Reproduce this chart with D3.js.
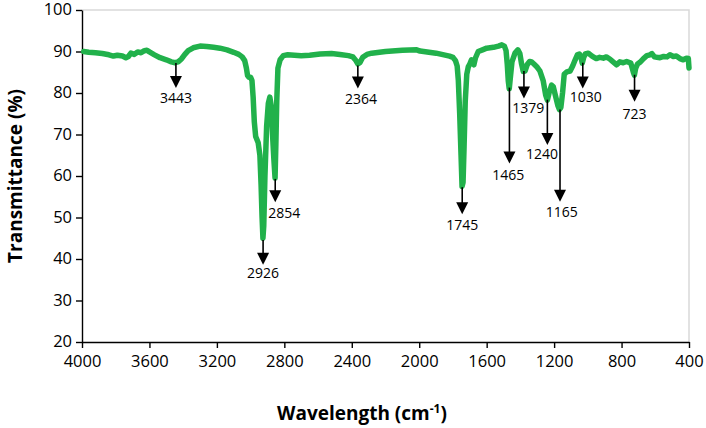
<!DOCTYPE html>
<html>
<head>
<meta charset="utf-8">
<script src="https://cdn.jsdelivr.net/npm/d3@7"></script>
<style>
  body { margin: 0; background: #fff; }
  svg { display: block; font-family: "Open Sans", sans-serif; }
</style>
</head>
<body>
<div id="chart"></div>
<script>
// FTIR spectrum
var wavenumbers = [3990,3960,3920,3880,3840,3814,3790,3760,3740,3725,3710,3690,3670,3650,3630,3615,3600,3570,3537,3500,
  3470,3448,3430,3410,3390,3370,3340,3300,3260,3220,3182,3140,3100,3070,3050,3035,3025,3018,3010,3000,
  2992,2985,2978,2970,2955,2945,2938,2932,2927,2922,2915,2905,2895,2886,2878,2870,2862,2855,2850,2845,
  2838,2825,2806,2780,2700,2650,2588,2520,2470,2420,2393,2375,2364,2352,2335,2310,2282,2200,2100,2015,
  1995,1900,1820,1800,1785,1775,1768,1760,1752,1746,1740,1734,1727,1718,1709,1700,1690,1683,1676,1666,
  1650,1625,1600,1560,1530,1510,1495,1485,1478,1472,1466,1460,1450,1432,1415,1403,1393,1383,1372,1360,
  1345,1333,1315,1300,1284,1265,1250,1240,1230,1215,1205,1190,1178,1168,1160,1150,1140,1125,1105,1090,
  1075,1062,1050,1040,1033,1025,1015,997,975,950,930,908,890,870,850,829,810,790,770,745,
  730,724,716,705,691,670,650,631,620,605,590,572,550,530,513,493,475,454,434,415,
  404,400];
var transmittance = [90.0,89.8,89.7,89.5,89.2,88.9,89.1,88.9,88.5,88.8,89.6,89.3,89.9,89.7,90.2,90.3,89.9,89.2,88.5,88.0,
  87.5,87.3,87.5,88.2,89.3,90.2,90.9,91.3,91.2,91.0,90.8,90.4,89.8,89.3,88.7,87.8,86.0,84.2,83.8,83.8,
  83.0,79.0,73.0,69.5,68.0,65.0,58.0,50.0,45.0,48.0,60.0,72.0,77.5,79.0,77.0,70.0,64.0,59.5,68.0,78.0,
  86.0,88.0,89.0,89.2,89.0,89.1,89.4,89.5,89.3,89.0,88.7,87.8,87.0,87.3,88.6,89.3,89.6,90.0,90.3,90.4,
  90.1,89.6,88.9,88.6,87.8,86.5,83.0,75.0,65.0,57.5,58.5,67.0,78.0,84.5,86.3,87.0,88.0,87.2,86.8,88.5,
  90.0,90.4,90.8,91.0,91.3,91.6,91.3,90.2,87.0,83.0,81.0,83.5,87.5,89.6,90.4,89.5,87.0,85.2,85.3,86.8,
  87.6,87.5,86.8,86.2,85.3,83.0,79.5,78.3,80.0,81.9,81.5,79.0,77.0,76.0,76.5,80.0,84.5,85.1,85.3,86.5,
  88.0,89.2,89.4,88.5,87.2,88.5,89.4,89.6,88.9,88.3,88.6,88.4,88.7,88.2,87.5,86.8,87.5,87.3,87.6,87.2,
  85.0,84.3,86.0,87.0,87.4,88.3,89.0,89.2,89.5,88.7,88.6,88.5,88.8,88.7,89.2,88.8,88.9,88.3,88.0,88.4,
  88.3,86.0];

// peak arrows: position, arrow top / tip (in %), label position
var peakLabels = ["3443","2926","2854","2364","1745","1465","1379","1240","1165","1030","723"];
var peakWn     = [3443, 2926, 2854, 2364, 1745, 1465, 1379, 1240, 1165, 1030, 723];
var arrowFrom  = [87.2, 44.6, 59.3, 86.6, 57.3, 81.3, 85.3, 78.4, 76.0, 87.3, 84.4];
var arrowTo    = [81.2, 38.6, 53.7, 81.1, 50.8, 63.0, 78.7, 67.5, 53.8, 81.1, 77.9];
var labelWn    = [3443, 2926, 2800, 2345, 1745, 1472, 1353, 1272, 1155, 1012, 723];
var labelT     = [77.6, 35.4, 49.9, 77.3, 47.0, 59.0, 75.1, 64.1, 50.2, 77.9, 73.7];

var xTicks = [4000,3600,3200,2800,2400,2000,1600,1200,800,400];
var yTicks = [20,30,40,50,60,70,80,90,100];

var width = 706, height = 428;
var margin = {top: 10, right: 17, bottom: 86, left: 82};
var widthG = width - margin.left - margin.right;
var heightG = height - margin.top - margin.bottom;

var svg = d3.select("#chart").append("svg")
  .attr("width", width)
  .attr("height", height)
  .attr("viewBox", "0 0 " + width + " " + height);

var g = svg.append("g")
  .attr("transform", "translate(" + margin.left + "," + margin.top + ")");

var x = d3.scaleLinear().domain([4000, 400]).range([0, widthG]);
var y = d3.scaleLinear().domain([20, 100]).range([heightG, 0]);

// light frame on top and right
g.append("path")
  .attr("d", "M0,0H" + widthG + "V" + heightG)
  .attr("fill", "none")
  .attr("stroke", "#d9d9d9")
  .attr("stroke-width", 1.5);

// axes
var xAxis = g.append("g")
  .attr("transform", "translate(0," + heightG + ")")
  .call(d3.axisBottom(x).tickValues(xTicks).tickSize(6).tickSizeOuter(0).tickFormat(d3.format("d")));

var yAxis = g.append("g")
  .call(d3.axisLeft(y).tickValues(yTicks).tickSize(6).tickSizeOuter(0));

[xAxis, yAxis].forEach(function(a){
  a.selectAll("path, line").attr("stroke", "#000").attr("stroke-width", 1.4);
  a.selectAll("text")
    .attr("fill", "#000")
    .style("font-family", "'Open Sans', sans-serif")
    .style("font-size", "16.5px");
});
xAxis.selectAll("text").attr("y", 13);
yAxis.selectAll("text").attr("x", -10).attr("dy", "0.3em");

// spectrum
var spectrum = wavenumbers.map(function(w, i){ return {wn: w, t: transmittance[i]}; });

g.append("path")
  .datum(spectrum)
  .attr("fill", "none")
  .attr("stroke", "#21b14b")
  .attr("stroke-width", 5.5)
  .attr("stroke-linejoin", "round")
  .attr("stroke-linecap", "round")
  .attr("d", d3.line()
    .x(function(d){ return x(d.wn); })
    .y(function(d){ return y(d.t); }));

// arrows + labels
var peaks = peakLabels.map(function(l, i){
  return {label: l, wn: peakWn[i], from: arrowFrom[i], to: arrowTo[i], lx: labelWn[i], ly: labelT[i]};
});

var ann = g.selectAll(".peak")
  .data(peaks)
  .enter().append("g")
  .attr("class", "peak");

var head = 12, halfW = 6;

ann.append("line")
  .attr("x1", function(d){ return x(d.wn); })
  .attr("x2", function(d){ return x(d.wn); })
  .attr("y1", function(d){ return y(d.from); })
  .attr("y2", function(d){ return y(d.to) - head + 1; })
  .attr("stroke", "#000")
  .attr("stroke-width", 1.6);

ann.append("path")
  .attr("d", function(d){
    var px = x(d.wn), py = y(d.to);
    return "M" + (px - halfW) + "," + (py - head) + "L" + (px + halfW) + "," + (py - head) + "L" + px + "," + py + "Z";
  })
  .attr("fill", "#000");

ann.append("text")
  .attr("x", function(d){ return x(d.lx); })
  .attr("y", function(d){ return y(d.ly); })
  .attr("text-anchor", "middle")
  .style("font-size", "14px")
  .attr("fill", "#000")
  .text(function(d){ return d.label; });

// axis titles
var xt = svg.append("text")
  .attr("x", 362)
  .attr("y", 420)
  .attr("text-anchor", "middle")
  .style("font-size", "19px")
  .style("font-weight", "bold")
  .attr("fill", "#000");
xt.append("tspan").text("Wavelength (cm");
xt.append("tspan").attr("dy", -7).style("font-size", "12px").text("-1");
xt.append("tspan").attr("dy", 7).text(")");

svg.append("text")
  .attr("transform", "translate(22,176) rotate(-90)")
  .attr("text-anchor", "middle")
  .style("font-size", "19px")
  .style("font-weight", "bold")
  .attr("fill", "#000")
  .text("Transmittance (%)");
</script>
</body>
</html>
